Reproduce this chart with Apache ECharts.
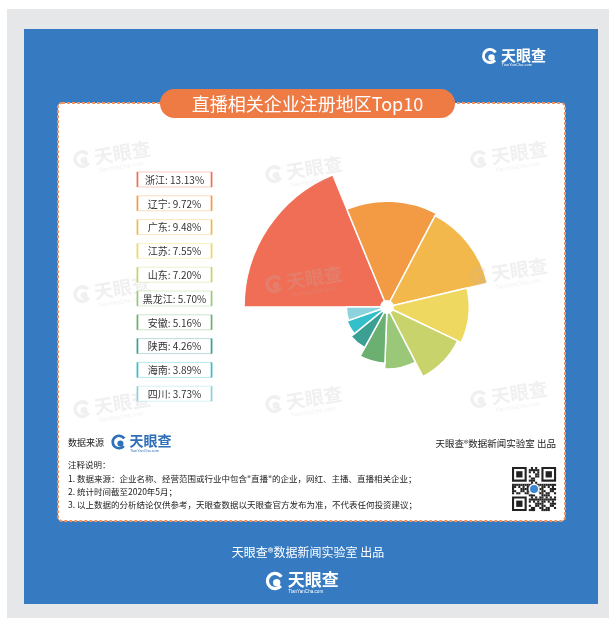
<!DOCTYPE html>
<html>
<head>
<meta charset="utf-8">
<script src="https://cdn.jsdelivr.net/npm/echarts@6/dist/echarts.min.js"></script>
<style>
html, body { margin: 0; padding: 0; background: #fff; }
#main { width: 609px; height: 618px; }
</style>
</head>
<body>
<div id="main"></div>
<script>
var provinces = ['浙江', '辽宁', '广东', '江苏', '山东', '黑龙江', '安徽', '陕西', '海南', '四川'];
var shares = [13.13, 9.72, 9.48, 7.55, 7.20, 5.70, 5.16, 4.26, 3.89, 3.73];
var sliceColors = ['#f06e55', '#f39a45', '#f2b84b', '#efd85f', '#c9d36b', '#9bc878', '#6bb070', '#3b9f93', '#35bfcb', '#8dd3dd'];
var titleText = '直播相关企业注册地区Top10';
var sourceLabel = '数据来源';
var creditText = '天眼查®数据新闻实验室 出品';
var notesTitle = '注释说明：';
var notes = [
    '1. 数据来源：企业名称、经营范围或行业中包含"直播"的企业，网红、主播、直播相关企业；',
    '2. 统计时间截至2020年5月；',
    '3. 以上数据的分析结论仅供参考，天眼查数据以天眼查官方发布为准，不代表任何投资建议；'
];

var FONT = '"Noto Sans CJK SC", sans-serif';

// groups don't pass z down, so stamp it on every child
function withZ(el, z) {
    el.z = z;
    if (el.children) el.children.forEach(function (c) { withZ(c, z); });
    return el;
}

function logo(x, y, s, color) {
    return [
        { type: 'sector', z: 5, shape: { cx: x, cy: y, r: 8 * s, r0: 5.2 * s, startAngle: 0.7, endAngle: 5.7 }, style: { fill: color } },
        { type: 'circle', z: 5, shape: { cx: x + 1.5 * s, cy: y + 1.5 * s, r: 3.2 * s }, style: { fill: color } },
        { type: 'text', z: 5, x: x + 11 * s, y: y - 1 * s, style: { text: '天眼查', fill: color, font: 'bold ' + Math.round(15 * s) + 'px ' + FONT, verticalAlign: 'middle' } },
        { type: 'text', z: 5, x: x + 11.5 * s, y: y + 9 * s, style: { text: 'TianYanCha.com', fill: color, font: (4 * s).toFixed(1) + 'px sans-serif', verticalAlign: 'middle' } }
    ];
}

function watermark(x, y) {
    var col = 'rgba(185,185,185,0.22)';
    return withZ({
        type: 'group', x: x, y: y, rotation: 0.16,
        children: [
            { type: 'sector', shape: { cx: -26, cy: 0, r: 9, r0: 5.5, startAngle: 0.7, endAngle: 5.7 }, style: { fill: col } },
            { type: 'circle', shape: { cx: -24.5, cy: 1.5, r: 3.5 }, style: { fill: col } },
            { type: 'text', x: -14, y: 0, style: { text: '天眼查', fill: col, font: 'bold 19px ' + FONT, verticalAlign: 'middle' } },
            { type: 'text', x: -12, y: 14, style: { text: 'TianYanCha.com', fill: col, font: '6px sans-serif', verticalAlign: 'middle' } }
        ]
    }, 6);
}

function legendBoxes() {
    var els = [];
    provinces.forEach(function (name, i) {
        var y = 172 + i * 23.8;
        var c = sliceColors[i];
        els.push(withZ({
            type: 'group', x: 137, y: y,
            children: [
                { type: 'rect', shape: { x: 0, y: 0, width: 75, height: 15 }, style: { fill: '#fff', stroke: c, lineWidth: 1, strokeOpacity: 0.35 } },
                { type: 'line', shape: { x1: 0.5, y1: 0, x2: 0.5, y2: 15 }, style: { stroke: c, lineWidth: 1.6 } },
                { type: 'line', shape: { x1: 74.5, y1: 0, x2: 74.5, y2: 15 }, style: { stroke: c, lineWidth: 1.6 } },
                { type: 'text', x: 37.5, y: 8, style: { text: name + ': ' + shares[i].toFixed(2) + '%', fill: '#333', font: '10px ' + FONT, align: 'center', verticalAlign: 'middle' } }
            ]
        }, 7));
    });
    return els;
}

function qrCode(x, y) {
    var cell = 2.1, n = 21, kids = [];
    kids.push({ type: 'rect', shape: { x: 0, y: 0, width: n * cell, height: n * cell }, style: { fill: '#fff' } });
    for (var r = 0; r < n; r++) {
        for (var c = 0; c < n; c++) {
            var inFinder = (r < 8 && c < 8) || (r < 8 && c >= n - 8) || (r >= n - 8 && c < 8);
            if (inFinder) continue;
            if (((r * 7 + c * 11 + r * c * 3) % 7) < 4) {
                kids.push({ type: 'rect', shape: { x: c * cell, y: r * cell, width: cell, height: cell }, style: { fill: '#222' } });
            }
        }
    }
    [[0, 0], [0, n - 7], [n - 7, 0]].forEach(function (p) {
        kids.push({ type: 'rect', shape: { x: p[1] * cell + cell / 2, y: p[0] * cell + cell / 2, width: 6 * cell, height: 6 * cell }, style: { fill: 'none', stroke: '#222', lineWidth: cell } });
        kids.push({ type: 'rect', shape: { x: (p[1] + 2) * cell, y: (p[0] + 2) * cell, width: 3 * cell, height: 3 * cell }, style: { fill: '#222' } });
    });
    kids.push({ type: 'circle', shape: { cx: n * cell / 2, cy: n * cell / 2, r: 5.5 }, style: { fill: '#fff' } });
    kids.push({ type: 'circle', shape: { cx: n * cell / 2, cy: n * cell / 2, r: 4 }, style: { fill: '#3a86d0' } });
    return withZ({ type: 'group', x: x, y: y, children: kids }, 5);
}

function buildGraphics() {
    var g = [
        { type: 'rect', z: 0, shape: { x: 7, y: 9, width: 602, height: 609 }, style: { fill: '#e6e7e9' } },
        { type: 'rect', z: 0, shape: { x: 24, y: 29, width: 574, height: 575 }, style: { fill: '#367bc1' } },
        { type: 'rect', z: 1, shape: { x: 58, y: 103, width: 507, height: 418, r: 4 }, style: { fill: '#fff', stroke: '#f4935c', lineWidth: 2, lineDash: [3, 2] } },
        { type: 'rect', z: 5, shape: { x: 160, y: 89, width: 295, height: 29, r: 14.5 }, style: { fill: '#ef7b44' } },
        { type: 'text', z: 6, x: 307.5, y: 104, style: { text: titleText, fill: '#fff', font: '18px ' + FONT, align: 'center', verticalAlign: 'middle' } },
        { type: 'text', z: 5, x: 68, y: 443, style: { text: sourceLabel, fill: '#222', font: '9px ' + FONT, verticalAlign: 'middle' } },
        { type: 'text', z: 5, x: 556, y: 443, style: { text: creditText, fill: '#222', font: '9.5px ' + FONT, align: 'right', verticalAlign: 'middle' } },
        { type: 'text', z: 5, x: 68, y: 465, style: { text: notesTitle, fill: '#222', font: '8.5px ' + FONT, verticalAlign: 'middle' } },
        { type: 'text', z: 5, x: 308, y: 552, style: { text: creditText, fill: '#fff', font: '12px ' + FONT, align: 'center', verticalAlign: 'middle' } },
        { type: 'circle', z: 8, shape: { cx: 387, cy: 307, r: 7 }, style: { fill: '#fff' } },
        qrCode(512, 467)
    ];
    notes.forEach(function (t, i) {
        g.push({ type: 'text', z: 5, x: 68, y: 479 + i * 12.7, style: { text: t, fill: '#222', font: '8.5px ' + FONT, verticalAlign: 'middle' } });
    });
    g = g.concat(logo(490, 56, 1.0, '#fff'));
    g = g.concat(logo(119, 442, 0.95, '#2f70b8'));
    g = g.concat(logo(275, 581, 1.15, '#fff'));
    [[108, 155], [300, 170], [505, 155], [108, 290], [300, 280], [505, 272], [108, 405], [300, 400], [505, 395]].forEach(function (p) {
        g.push(watermark(p[0], p[1]));
    });
    return g.concat(legendBoxes());
}

function roseChartInit() {
    var chartDom = document.getElementById('main');
    var myChart = echarts.init(chartDom);
    var option;

    option = {
        animation: false,
        graphic: buildGraphics(),
        series: [
            {
                name: '注册地区',
                type: 'pie',
                roseType: 'radius',
                center: [387, 307],
                radius: [0, 143],
                startAngle: 180,
                clockwise: true,
                label: { show: false },
                labelLine: { show: false },
                itemStyle: { borderColor: '#fff', borderWidth: 1.5 },
                emphasis: { scale: false },
                data: provinces.map(function (name, i) {
                    return { name: name, value: shares[i], itemStyle: { color: sliceColors[i] } };
                })
            }
        ]
    };

    option && myChart.setOption(option);
}

roseChartInit();
</script>
</body>
</html>
